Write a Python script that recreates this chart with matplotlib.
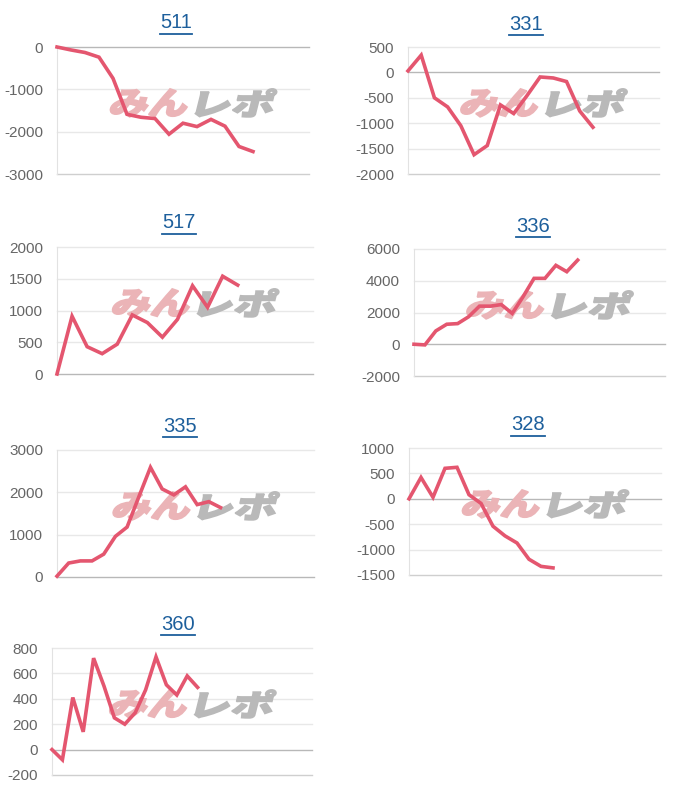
import numpy as np
import matplotlib
matplotlib.use("Agg")
import matplotlib.pyplot as plt
import matplotlib.transforms as mtransforms
from matplotlib.textpath import TextPath
from matplotlib.patches import PathPatch
from matplotlib.font_manager import FontProperties
from matplotlib.lines import Line2D

plt.rcParams['font.family'] = ['Liberation Sans', 'DejaVu Sans']

# machine numbers and their running totals
titles = ["511", "331", "517", "336", "335", "328", "360"]

d511 = [0, -70, -130, -240, -740, -1590, -1660, -1690, -2060, -1800, -1880, -1710, -1870, -2350, -2470]
d331 = [30, 340, -500, -680, -1050, -1620, -1440, -640, -810, -460, -90, -110, -180, -760, -1080]
d517 = [0, 910, 430, 320, 470, 930, 810, 580, 860, 1390, 1050, 1540, 1400]
d336 = [0, -40, 840, 1260, 1300, 1730, 2400, 2400, 2500, 1940, 3000, 4150, 4150, 4970, 4570, 5300]
d335 = [20, 330, 380, 380, 540, 960, 1180, 1890, 2590, 2080, 1940, 2130, 1710, 1780, 1640]
d328 = [0, 420, 30, 600, 620, 80, -90, -540, -730, -870, -1190, -1330, -1360]
d360 = [0, -80, 410, 140, 720, 500, 250, 200, 290, 470, 730, 510, 430, 580, 490]

series = [d511, d331, d517, d336, d335, d328, d360]
ylims = [(-3000, 0), (-2000, 500), (0, 2000), (-2000, 6000), (0, 3000), (-1500, 1000), (-200, 800)]
ysteps = [1000, 500, 500, 2000, 1000, 500, 200]
nslots = [18, 19, 17, 23, 22, 21, 25]

# panel boxes in pixels: left, right, top, bottom ; title centre x, y
boxes = [(57, 309, 47, 174), (408, 659, 47, 174),
         (57, 313, 247, 374), (414, 665, 249, 376),
         (57, 314, 450, 577), (409, 661, 448, 575),
         (52, 312, 648, 775)]
title_pos = [(176, 23), (526, 24), (179, 223), (533, 226), (180, 427), (528, 425), (178, 624)]

W, H = 700, 800
fig = plt.figure(figsize=(7, 8), dpi=100)

line_col = '#e4566f'
title_col = '#1d5f9c'
pink = '#ebb4b7'
grey = '#b9b9b9'
fp = FontProperties(family='Noto Sans CJK JP', weight='heavy')


def watermark(ax):
    cx, cy = ax.transAxes.transform((0.54, 0.56))
    for txt, col, dx in (("みん", pink, -43), ("レポ", grey, 43)):
        tp = TextPath((0, 0), txt, size=1, prop=fp)
        ext = tp.get_extents()
        tr = (mtransforms.Affine2D()
              .translate(-(ext.x0 + ext.width / 2), -(ext.y0 + ext.height / 2))
              .scale(76 / ext.width, 28 / ext.height)
              .skew_deg(14, 0)
              .translate(cx + dx, cy))
        ax.add_patch(PathPatch(tp, transform=tr, facecolor=col, edgecolor=col,
                               lw=1.2, zorder=1))


axes = []
for i, vals in enumerate(series):
    l, r, t, b = boxes[i]
    ax = fig.add_axes([l / W, 1 - b / H, (r - l) / W, (b - t) / H])
    lo, hi = ylims[i]
    ax.set_ylim(lo, hi)
    ax.set_xlim(0, nslots[i])
    yt = np.arange(lo, hi + 1, ysteps[i])
    ax.set_yticks(yt)
    ax.set_yticklabels([str(int(v)) for v in yt])
    ax.set_xticks([])
    ax.tick_params(axis='y', length=0, pad=10, labelsize=11, labelcolor='#666666')
    for s in ['top', 'right', 'bottom']:
        ax.spines[s].set_visible(False)
    ax.spines['left'].set_color('#e2e2e2')
    ax.patch.set_visible(False)
    for v in yt:
        if v == 0:
            c = '#b8b8b8'
        elif v == lo:
            c = '#cfcfcf'
        else:
            c = '#e8e8e8'
        ax.axhline(v, color=c, lw=1, zorder=0.5, clip_on=False)
    watermark(ax)
    ax.plot(np.arange(len(vals)), vals, color=line_col, lw=2.6, zorder=3,
            solid_joinstyle='miter', clip_on=False)
    axes.append(ax)

title_texts = []
for i, name in enumerate(titles):
    x, y = title_pos[i]
    tt = fig.text(x / W, 1 - y / H, name, ha='center', va='center',
                  fontsize=14.5, color=title_col)
    title_texts.append(tt)

fig.canvas.draw()
rend = fig.canvas.get_renderer()
for i, tt in enumerate(title_texts):
    bb = tt.get_window_extent(rend)
    yy = bb.y0 - 1
    fig.add_artist(Line2D([bb.x0 / W, bb.x1 / W], [yy / H, yy / H],
                          transform=fig.transFigure, color=title_col, lw=1.3))

fig.savefig("out.png", dpi=100)
